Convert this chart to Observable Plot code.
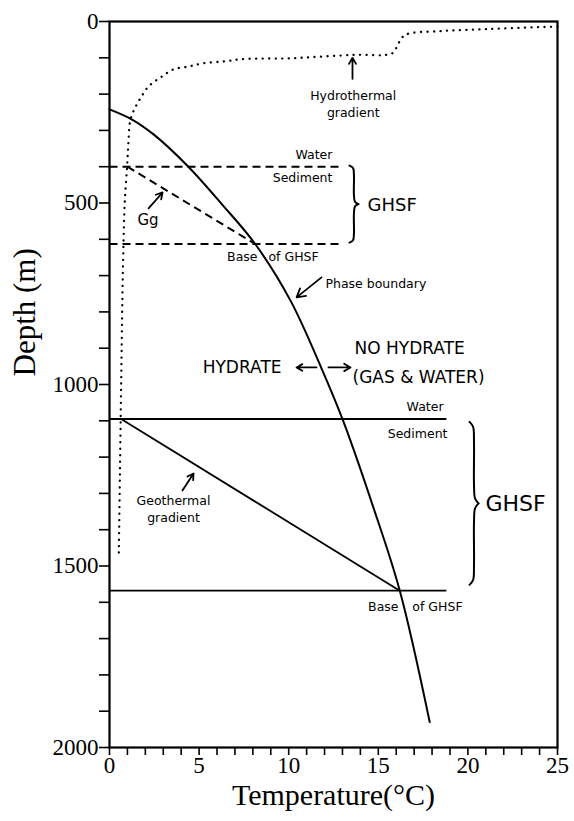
<!DOCTYPE html>
<html><head><meta charset="utf-8">
<script src="https://cdn.jsdelivr.net/npm/d3@7"></script>
<script src="https://cdn.jsdelivr.net/npm/@observablehq/plot@0.6"></script>
<style>body{margin:0;background:#fff} #chart svg{display:block}</style>
</head><body><div id="chart"></div>
<script>
// Phase boundary (temperature °C, depth m)
const phaseTemp  = [0, 1.26, 2.46, 4.4, 6.3, 8.13, 10.1, 11.8, 13.03, 14.7, 16.2, 17.87];
const phaseDepth = [242, 270, 311, 400, 505, 613, 769, 952, 1099, 1335, 1568, 1930];

// Hydrothermal gradient (dotted)
const hydroTemp  = [25, 22, 20, 18.3, 16.5, 16.1, 15.8, 13.6, 11, 9.9, 8.6, 7.3, 6.4, 5.25, 4.4, 3.57, 2.85, 2.18, 1.73, 1.34, 1.15, 1.06, 0.98, 0.85, 0.78, 0.72, 0.65, 0.58, 0.52];
const hydroDepth = [14, 19, 23, 27, 37, 62, 87, 92, 99, 102, 102, 104, 110, 115, 124, 132, 154, 179, 211, 247, 275, 330, 400, 500, 613, 760, 1000, 1250, 1465];

// Upper (dashed) example: seafloor, base of GHSF, geothermal gradient Gg
const upperWaterDepth = 400, upperBaseDepth = 613, upperLineEnd = 13.0;
const upperGg = {t1: 1.0, d1: 400, t2: 8.13, d2: 613};
// Lower (solid) example
const lowerWaterDepth = 1095, lowerBaseDepth = 1568, lowerLineEnd = 18.8;
const lowerGeo = {t1: 0.65, d1: 1095, t2: 16.2, d2: 1568};

// Braces: [x left, top depth, bottom depth, width °C]
const braces = [
  {x: 13.39, top: 397, bottom: 609, w: 0.5},
  {x: 20.09, top: 1103, bottom: 1552, w: 0.5}
];

// Tick values
const xTickValues = d3.range(0, 26, 1);
const xTickLabels = [0, 5, 10, 15, 20, 25];
const yTickValues = d3.range(0, 2001, 100);
const yTickLabels = [0, 500, 1000, 1500, 2000];

// Annotation text
const labels = [
  {t: 12.44, d: 369, s: "Water", a: "end", f: 12.5},
  {t: 12.44, d: 430, s: "Sediment", a: "end", f: 12.5},
  {t: 14.4, d: 507, s: "GHSF", a: "start", f: 18},
  {t: 2.15, d: 548, s: "Gg", a: "middle", f: 15},
  {t: 8.26, d: 650, s: "Base", a: "end", f: 12.5},
  {t: 8.87, d: 650, s: "of GHSF", a: "start", f: 12.5},
  {t: 13.6, d: 204, s: "Hydrothermal", a: "middle", f: 12.5},
  {t: 13.6, d: 251, s: "gradient", a: "middle", f: 12.5},
  {t: 12.05, d: 722, s: "Phase boundary", a: "start", f: 12.5},
  {t: 9.6, d: 953, s: "HYDRATE", a: "end", f: 17},
  {t: 13.67, d: 901, s: "NO HYDRATE", a: "start", f: 17},
  {t: 13.56, d: 981, s: "(GAS & WATER)", a: "start", f: 17},
  {t: 18.64, d: 1063, s: "Water", a: "end", f: 12.5},
  {t: 18.86, d: 1135, s: "Sediment", a: "end", f: 12.5},
  {t: 16.13, d: 1614, s: "Base", a: "end", f: 12.5},
  {t: 16.9, d: 1614, s: "of GHSF", a: "start", f: 12.5},
  {t: 3.57, d: 1320, s: "Geothermal", a: "middle", f: 12.5},
  {t: 3.57, d: 1369, s: "gradient", a: "middle", f: 12.5},
  {t: 20.98, d: 1328, s: "GHSF", a: "start", f: 22}
];

// Arrows (tail -> head)
const arrows = [
  {t1: 13.56, d1: 158, t2: 13.56, d2: 100},
  {t1: 2.18, d1: 515, t2: 2.96, d2: 471},
  {t1: 11.83, d1: 705, t2: 10.44, d2: 760},
  {t1: 11.55, d1: 953, t2: 10.44, d2: 953},
  {t1: 12.22, d1: 953, t2: 13.45, d2: 953},
  {t1: 4.07, d1: 1292, t2: 4.69, d2: 1245}
];

const phase = phaseTemp.map((t, i) => ({t, d: phaseDepth[i]}));
const hydro = hydroTemp.map((t, i) => ({t, d: hydroDepth[i]}));

const dashed = [
  {t1: 0, d1: upperWaterDepth, t2: upperLineEnd, d2: upperWaterDepth},
  {t1: 0, d1: upperBaseDepth, t2: upperLineEnd, d2: upperBaseDepth},
  upperGg
];
const solid = [
  {t1: 0, d1: lowerWaterDepth, t2: lowerLineEnd, d2: lowerWaterDepth},
  {t1: 0, d1: lowerBaseDepth, t2: lowerLineEnd, d2: lowerBaseDepth},
  lowerGeo
];

// brace halves built from brace specs
const braceHalves = [];
braces.forEach((b, k) => {
  const h = b.bottom - b.top, m = (b.top + b.bottom) / 2;
  const top = [[0, b.top], [0.4, b.top + 0.03 * h], [0.5, b.top + 0.12 * h], [0.5, m - 0.12 * h], [0.62, m - 0.03 * h], [1, m]];
  const bot = [[1, m], [0.62, m + 0.03 * h], [0.5, m + 0.12 * h], [0.5, b.bottom - 0.12 * h], [0.4, b.bottom - 0.03 * h], [0, b.bottom]];
  top.forEach(([fx, d]) => braceHalves.push({g: k * 2, t: b.x + fx * b.w, d}));
  bot.forEach(([fx, d]) => braceHalves.push({g: k * 2 + 1, t: b.x + fx * b.w, d}));
});

const sans = "DejaVu Sans, sans-serif";
const serif = "Liberation Serif, Times New Roman, serif";
const textMarks = ["start", "middle", "end"].map(a =>
  Plot.text(labels.filter(l => l.a === a), {x: "t", y: "d", text: "s", textAnchor: a, fontSize: "f", fontFamily: sans}));

const chart = Plot.plot({
  width: 574, height: 821,
  marginLeft: 109, marginRight: 17, marginTop: 21, marginBottom: 74,
  x: {domain: [0, 25]},
  y: {domain: [0, 2000], reverse: true},
  style: {background: "white", color: "black"},
  marks: [
    Plot.axisY(yTickValues, {tickSize: 10, tickPadding: 1, strokeWidth: 1.6,
      tickFormat: d => yTickLabels.includes(d) ? String(d) : "",
      fontSize: 23, fontFamily: serif, label: null}),
    Plot.axisX(xTickValues, {tickSize: 8, tickPadding: 1, strokeWidth: 1.6,
      tickFormat: d => xTickLabels.includes(d) ? String(d) : "",
      fontSize: 23, fontFamily: serif, label: null}),
    Plot.frame({strokeWidth: 2.2}),
    Plot.line(hydro, {x: "t", y: "d", curve: "catmull-rom", strokeWidth: 2.3,
      strokeDasharray: "0.1,6.4", strokeLinecap: "round"}),
    Plot.link(dashed, {x1: "t1", y1: "d1", x2: "t2", y2: "d2", strokeWidth: 2, strokeDasharray: "8,5"}),
    Plot.link(solid, {x1: "t1", y1: "d1", x2: "t2", y2: "d2", strokeWidth: 1.8}),
    Plot.line(phase, {x: "t", y: "d", curve: "catmull-rom", strokeWidth: 2}),
    Plot.line(braceHalves, {x: "t", y: "d", z: "g", curve: "catmull-rom", strokeWidth: 2}),
    Plot.arrow(arrows, {x1: "t1", y1: "d1", x2: "t2", y2: "d2", strokeWidth: 1.8, headLength: 8}),
    ...textMarks,
    Plot.text(["Temperature(°C)"], {frameAnchor: "bottom", dy: 57, fontSize: 30, fontFamily: serif}),
    Plot.text(["Depth (m)"], {frameAnchor: "left", dx: -84, dy: -8, rotate: -90, fontSize: 31, fontFamily: serif})
  ]
});
document.getElementById("chart").appendChild(chart);
</script>
</body></html>
